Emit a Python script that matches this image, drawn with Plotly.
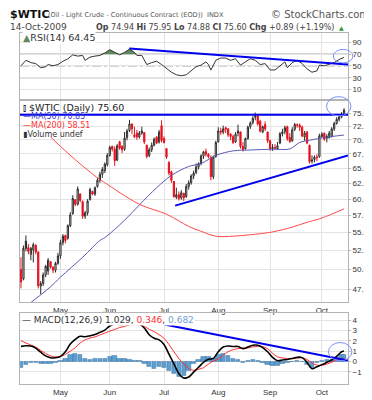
import math
import pandas as pd
import plotly.graph_objects as go

# ---------------- data ----------------
holidays = ["2009-04-10", "2009-05-25", "2009-07-03", "2009-09-07"]
dates = [d for d in pd.bdate_range("2009-04-08", "2009-10-14")
         if d.strftime("%Y-%m-%d") not in holidays]
day_idx = list(range(len(dates)))

opens = [50.0, 48.8, 53.8, 52.9, 52.0, 52.6, 53.2, 52.3, 47.9, 48.2,
         49.3, 49.8, 51.0, 50.3, 49.9, 50.8, 51.8, 53.6, 54.6, 54.2,
         56.0, 57.8, 59.9, 59.2, 60.8, 59.6, 57.4, 57.9, 59.9, 61.2,
         60.8, 62.0, 63.0, 64.0, 64.6, 65.6, 67.2, 68.8, 68.3, 66.4,
         69.6, 68.8, 68.3, 70.4, 71.7, 72.9, 70.5, 71.2, 70.5, 71.2,
         71.3, 69.0, 67.2, 68.2, 69.0, 70.5, 69.6, 72.6, 70.2, 68.4,
         66.0, 64.4, 62.8, 60.3, 60.7, 60.2, 60.9, 60.4, 62.0, 62.6,
         63.7, 64.3, 65.2, 65.8, 67.1, 67.9, 67.4, 66.8, 63.6, 67.0,
         69.6, 71.6, 71.4, 72.2, 72.0, 71.0, 70.6, 69.6, 71.2, 71.4,
         68.8, 68.4, 70.2, 72.4, 73.2, 74.2, 74.5, 73.4, 71.4, 72.8,
         71.4, 69.8, 68.4, 68.6, 68.4, 69.4, 71.1, 71.5, 72.4, 70.4,
         69.8, 71.9, 72.8, 72.7, 72.3, 70.5, 71.4, 69.0, 66.2, 66.5,
         66.9, 67.0, 70.6, 71.2, 70.6, 70.4, 70.6, 72.0, 73.0, 73.8,
         74.3, 74.94]
highs = [51.6, 53.2, 54.6, 53.4, 53.0, 53.6, 53.4, 52.4, 48.5, 49.6,
         50.6, 51.5, 51.1, 50.4, 51.0, 52.2, 54.0, 54.8, 54.7, 56.2,
         58.0, 60.6, 60.0, 62.0, 60.9, 59.8, 58.2, 60.0, 61.8, 61.3,
         62.0, 63.4, 64.4, 65.2, 66.0, 67.6, 68.9, 68.9, 68.8, 69.2,
         69.8, 69.0, 71.4, 72.0, 73.7, 73.0, 72.4, 71.8, 71.6, 72.4,
         71.4, 69.1, 68.6, 69.5, 70.4, 70.6, 71.8, 73.6, 70.6, 68.5,
         66.2, 64.6, 62.9, 61.8, 61.2, 61.4, 61.0, 62.4, 63.0, 64.0,
         64.6, 65.8, 66.0, 67.4, 68.0, 68.4, 67.6, 67.2, 67.2, 69.8,
         72.3, 72.2, 72.6, 72.4, 72.1, 71.2, 70.9, 71.4, 72.8, 71.5,
         69.6, 70.4, 72.6, 73.4, 74.4, 75.1, 74.6, 73.7, 72.6, 73.4,
         71.5, 70.0, 69.2, 69.2, 69.6, 71.4, 72.0, 72.6, 72.6, 71.2,
         72.3, 73.1, 73.0, 73.0, 72.6, 71.6, 71.6, 69.1, 67.2, 67.2,
         67.4, 71.1, 71.4, 71.3, 71.0, 71.6, 72.3, 73.3, 74.2, 74.6,
         75.2, 75.95]
lows = [47.6, 48.6, 52.4, 52.0, 51.2, 50.9, 52.0, 47.6, 46.9, 47.9,
        49.0, 49.3, 50.1, 49.5, 49.6, 50.6, 51.4, 53.2, 53.5, 54.0,
        55.8, 57.6, 58.9, 59.0, 59.5, 57.0, 57.0, 57.5, 59.8, 60.6,
        60.5, 61.8, 62.6, 63.4, 64.2, 65.3, 67.0, 67.9, 65.4, 66.2,
        68.2, 67.6, 68.0, 69.9, 71.4, 71.0, 70.3, 70.0, 70.2, 70.9,
        69.2, 66.7, 66.9, 67.8, 68.8, 69.2, 69.3, 69.5, 69.3, 66.6,
        63.8, 62.6, 60.2, 60.0, 59.8, 59.9, 59.7, 60.2, 61.5, 62.3,
        63.2, 64.0, 64.8, 65.5, 66.6, 67.0, 66.7, 63.0, 63.2, 66.8,
        69.5, 70.9, 71.0, 71.2, 70.5, 69.9, 69.2, 69.4, 70.6, 68.4,
        67.9, 68.2, 70.0, 72.0, 72.8, 73.6, 72.6, 71.3, 71.2, 71.6,
        69.4, 68.0, 68.0, 68.2, 68.2, 69.2, 70.6, 71.0, 69.8, 69.4,
        69.6, 71.6, 72.2, 71.6, 70.4, 69.8, 69.2, 65.8, 65.8, 66.0,
        66.2, 66.8, 70.4, 69.8, 69.5, 70.2, 70.4, 71.6, 72.8, 73.4,
        74.0, 74.88]
closes = [48.4, 52.8, 52.8, 52.4, 52.8, 53.3, 52.3, 47.9, 48.2, 49.3,
          50.4, 51.2, 50.3, 49.9, 50.8, 51.8, 53.6, 54.5, 53.9, 56.0,
          57.6, 60.1, 59.2, 61.6, 59.8, 57.4, 57.9, 59.7, 61.5, 60.8,
          61.8, 63.0, 64.0, 64.8, 65.7, 67.2, 68.6, 68.3, 66.3, 68.9,
          68.5, 68.2, 70.3, 71.6, 72.9, 72.0, 70.9, 70.5, 71.2, 71.6,
          69.6, 67.0, 68.2, 69.0, 70.1, 69.4, 71.4, 69.9, 69.5, 66.9,
          64.2, 63.0, 60.4, 60.7, 60.1, 61.0, 60.2, 62.0, 62.6, 63.7,
          64.2, 65.2, 65.8, 67.1, 67.8, 67.4, 67.0, 63.6, 66.9, 69.5,
          71.6, 71.4, 72.0, 71.9, 70.9, 70.6, 69.5, 71.0, 71.6, 68.8,
          68.2, 70.2, 72.3, 73.1, 74.0, 74.4, 72.9, 71.6, 72.4, 72.0,
          69.8, 68.4, 68.6, 68.5, 68.9, 71.1, 71.4, 72.2, 70.2, 69.7,
          71.8, 72.8, 72.7, 72.3, 70.7, 71.2, 69.4, 66.1, 66.4, 66.9,
          66.8, 70.7, 71.0, 70.1, 70.3, 71.2, 72.0, 73.0, 73.8, 74.3,
          74.71, 75.60]

ma50_idx = [0, 12, 16, 25, 32, 34, 42, 48, 55, 61, 68, 73, 79, 86, 93, 102, 109, 113, 117, 123, 131]
ma50_val = [45.0, 47.8, 49.0, 51.6, 53.9, 54.3, 56.8, 59.1, 61.8, 63.8, 65.3, 65.8, 67.2, 68.0,
            68.15, 68.3, 68.35, 69.5, 69.9, 70.4, 70.85]
ma200_idx = [12, 19, 25, 32, 34, 48, 59, 68, 73, 79, 86, 93, 102, 109, 117, 121, 126, 131]
ma200_val = [70.5, 67.6, 65.4, 63.1, 62.6, 59.2, 57.7, 55.9, 55.2, 54.5, 54.5, 54.7, 55.1, 55.7,
             56.6, 57.0, 57.7, 58.51]

rsi_idx = [0, 2, 4, 6, 8, 10, 11, 13, 15, 17, 19, 21, 23, 25, 26, 28, 30, 32, 34, 36, 38, 40, 42,
           44, 46, 47, 49, 51, 53, 55, 57, 59, 61, 63, 65, 67, 69, 71, 73, 75, 76, 77, 79, 81, 83,
           85, 87, 89, 91, 93, 95, 97, 99, 101, 103, 105, 107, 108, 110, 112, 114, 116, 118, 120,
           121, 123, 125, 127, 129, 131]
rsi_val = [50.3, 59.6, 55.7, 54.0, 47.0, 48.7, 52.4, 50.3, 52.4, 58.0, 62.0, 68.8, 66.7, 67.8, 59.6,
           65.0, 66.7, 67.8, 72.0, 77.6, 73.2, 68.8, 73.0, 78.6, 73.0, 67.8, 67.8, 52.4, 55.7, 58.0,
           52.4, 46.0, 39.4, 35.1, 33.5, 35.0, 41.7, 48.7, 51.4, 56.9, 52.4, 43.0, 59.6, 63.4, 63.4,
           59.6, 62.2, 51.4, 57.0, 62.2, 59.6, 52.4, 54.0, 43.2, 43.2, 50.3, 56.9, 47.0, 55.7, 59.6,
           54.0, 45.0, 39.4, 41.7, 51.4, 50.3, 52.4, 55.7, 61.0, 64.45]

macd_idx = list(range(0, 131, 2)) + [131]
macd_val = [1.47, 1.53, 1.5, 1.3, 0.9, 0.55, 0.37, 0.36, 0.5, 0.95, 1.7, 2.15, 2.45, 2.4, 2.5, 2.62,
            2.83, 3.05, 3.45, 3.65, 3.6, 3.65, 3.75, 3.7, 3.65, 3.25, 2.6, 2.25, 2.1, 1.65, 0.72,
            -0.22, -1.17, -1.6, -1.5, -1.03, -0.56, -0.09, 0.22, 0.3, 0.95, 1.4, 1.5, 1.46, 1.45,
            1.25, 1.4, 1.58, 1.58, 1.35, 0.95, 0.4, 0.08, 0.15, 0.2, 0.3, 0.42, 0.38, -0.1, -0.7,
            -0.5, -0.3, -0.08, 0.15, 0.5, 0.95, 1.0286]
signal_val = [2.03, 1.8, 1.6, 1.4, 1.08, 0.78, 0.55, 0.44, 0.46, 0.7, 1.0, 1.35, 1.8, 2.1, 2.28, 2.38,
              2.58, 2.76, 2.95, 3.1, 3.3, 3.4, 3.55, 3.58, 3.55, 3.42, 3.12, 2.9, 2.6, 2.25, 1.65,
              0.95, 0.3, -0.25, -0.65, -0.85, -0.75, -0.6, -0.25, 0.05, 0.25, 0.6, 0.95, 1.15, 1.25,
              1.31, 1.31, 1.42, 1.47, 1.45, 1.25, 0.8, 0.45, 0.35, 0.28, 0.27, 0.32, 0.36, 0.2, -0.15,
              -0.35, -0.38, -0.25, -0.08, 0.15, 0.3, 0.3463]

# hand-drawn trend lines
res_x, res_y = [-0.4, 132.6], [74.7, 74.7]
sup_x, sup_y = [62.5, 132.6], [59.0, 67.2]
rsi_tr_x, rsi_tr_y = [43.9, 132.6], [79.7, 52.4]
macd_tr_x, macd_tr_y = [58.2, 132.6], [3.58, 0.1]

price_ticks = [47.5, 50.0, 52.5, 55.0, 57.5, 60.0, 62.5, 65.0, 67.5, 70.0, 72.5, 75.0]
rsi_ticks = [10, 30, 50, 70, 90]
macd_ticks = [-1, 0, 1, 2, 3, 4]

# ---------------- geometry helpers ----------------
W, H = 372, 400
L, R, T, B = 12, 348, 25, 389


def pxx(x):
    return (x - L) / (R - L)


def pxy(y):
    return (B - y) / (B - T)


month_pos = [i for i in range(1, len(dates)) if dates[i].month != dates[i - 1].month]
month_lbl = [dates[i].strftime("%b") for i in month_pos]
x_range = [-0.4, len(dates) + 0.6]

fig = go.Figure()

# ---------------- RSI panel ----------------
rsi_cap = [max(v, 70) for v in rsi_val]
fig.add_trace(go.Scatter(x=rsi_idx, y=[70] * len(rsi_idx), mode="lines", line=dict(width=0),
                         hoverinfo="skip", xaxis="x", yaxis="y"))
fig.add_trace(go.Scatter(x=rsi_idx, y=rsi_cap, mode="lines", line=dict(width=0), fill="tonexty",
                         fillcolor="#5c8a5c", hoverinfo="skip", xaxis="x", yaxis="y"))
fig.add_trace(go.Scatter(x=rsi_idx, y=rsi_val, mode="lines", line=dict(color="#333333", width=1),
                         xaxis="x", yaxis="y"))
fig.add_trace(go.Scatter(x=rsi_tr_x, y=rsi_tr_y, mode="lines", line=dict(color="#0000ee", width=2),
                         xaxis="x", yaxis="y"))

# ---------------- price panel ----------------
prev_close = [opens[0]] + closes[:-1]
groups = [
    ([c >= p for c, p in zip(closes, prev_close)], "#2a2a2a"),
    ([c < p for c, p in zip(closes, prev_close)], "#e8101c"),
]
for mask, col in groups:
    xs = [i for i, m in zip(day_idx, mask) if m]
    fig.add_trace(go.Candlestick(
        x=xs,
        open=[opens[i] for i in xs], high=[highs[i] for i in xs],
        low=[lows[i] for i in xs], close=[closes[i] for i in xs],
        increasing=dict(line=dict(color=col, width=1), fillcolor="white"),
        decreasing=dict(line=dict(color=col, width=1), fillcolor=col),
        whiskerwidth=0, xaxis="x2", yaxis="y2"))

fig.add_trace(go.Scatter(x=ma50_idx, y=ma50_val, mode="lines", line=dict(color="#5a5ab4", width=1, shape="spline"),
                         xaxis="x2", yaxis="y2"))
fig.add_trace(go.Scatter(x=ma200_idx, y=ma200_val, mode="lines", line=dict(color="#ff4a4a", width=1, shape="spline"),
                         xaxis="x2", yaxis="y2"))
fig.add_trace(go.Scatter(x=res_x, y=res_y, mode="lines", line=dict(color="#0000ee", width=2),
                         xaxis="x2", yaxis="y2"))
fig.add_trace(go.Scatter(x=sup_x, y=sup_y, mode="lines", line=dict(color="#0000ee", width=2),
                         xaxis="x2", yaxis="y2"))

# ---------------- MACD panel ----------------
hist_val = [m - s for m, s in zip(macd_val, signal_val)]
fig.add_trace(go.Bar(x=macd_idx, y=hist_val, width=1.8,
                     marker=dict(color="#5c9fd2", line=dict(color="#2a5f90", width=0.4)),
                     xaxis="x3", yaxis="y3"))
fig.add_trace(go.Scatter(x=macd_idx, y=signal_val, mode="lines", line=dict(color="#ff3030", width=1, shape="spline"),
                         xaxis="x3", yaxis="y3"))
fig.add_trace(go.Scatter(x=macd_idx, y=macd_val, mode="lines", line=dict(color="#000000", width=1.6, shape="spline"),
                         xaxis="x3", yaxis="y3"))
fig.add_trace(go.Scatter(x=macd_tr_x, y=macd_tr_y, mode="lines", line=dict(color="#0000ee", width=2),
                         xaxis="x3", yaxis="y3"))

# ---------------- axes ----------------
grid = "#e3e3e3"
border = "#b4b4b4"
tickfont = dict(family="Liberation Sans", size=8, color="#333333")
xcommon = dict(range=x_range, tickvals=month_pos, ticktext=month_lbl, showgrid=True, gridcolor=grid,
               showline=True, mirror=True, linecolor=border, zeroline=False, ticks="", tickfont=tickfont,
               fixedrange=True)
ycommon = dict(side="right", showgrid=True, gridcolor=grid, showline=True, mirror=True, linecolor=border,
               zeroline=False, ticks="outside", ticklen=2, tickcolor="#bbbbbb", tickfont=tickfont)

lo, hi = 45.94, 77.3
fig.update_layout(
    width=W, height=H,
    margin=dict(l=L, r=W - R, t=T, b=H - B),
    paper_bgcolor="white", plot_bgcolor="white",
    showlegend=False,
    bargap=0,
    xaxis=dict(xcommon, domain=[0, 1], anchor="y", showticklabels=False),
    yaxis=dict(ycommon, domain=[pxy(93), 1.0], range=[-5.2, 105.8], tickvals=rsi_ticks),
    xaxis2=dict(xcommon, domain=[0, 1], anchor="y2", showticklabels=True, rangeslider=dict(visible=False)),
    yaxis2=dict(ycommon, domain=[pxy(304), pxy(96)], type="log",
                range=[math.log10(lo), math.log10(hi)], tickvals=price_ticks,
                ticktext=["%.1f" % v for v in price_ticks]),
    xaxis3=dict(xcommon, domain=[0, 1], anchor="y3", showticklabels=True),
    yaxis3=dict(ycommon, domain=[0, pxy(315)], range=[-2.18, 4.74], tickvals=macd_ticks),
)

# ---------------- shapes ----------------
shapes = [
    dict(type="line", xref="paper", x0=0, x1=1, yref="y", y0=70, y1=70, layer="below",
         line=dict(color="#8a8a8a", width=1)),
    dict(type="line", xref="paper", x0=0, x1=1, yref="y", y0=30, y1=30, layer="below",
         line=dict(color="#8a8a8a", width=1)),
    dict(type="line", xref="paper", x0=0, x1=1, yref="y", y0=50, y1=50, layer="below",
         line=dict(color="#a0a0a0", width=1, dash="dashdot")),
]
ell = dict(color="#7a90ff", width=1)
for (x0, x1, y0, y1) in [(333, 353, 42, 56), (326, 351, 91, 111), (328, 352, 346, 365)]:
    shapes.append(dict(type="circle", xref="paper", yref="paper", x0=pxx(x0), x1=pxx(x1),
                       y0=pxy(y1), y1=pxy(y0), line=ell))
fig.update_layout(shapes=shapes)

# ---------------- texts ----------------
DV = "DejaVu Sans"
ann = []


def text(x, y, s, size, color="#333333", anchor="left", family=DV, bg=None):
    d = dict(x=pxx(x), y=pxy(y), xref="paper", yref="paper", text=s, showarrow=False,
             xanchor=anchor, yanchor="middle", font=dict(family=family, size=size, color=color))
    if bg:
        d["bgcolor"] = bg
        d["borderpad"] = 0
    ann.append(d)


chg = closes[-1] - closes[-2]
pct = chg / closes[-2] * 100
text(0, 6, "<b>$WTIC</b>", 11, "#111111")
text(39, 6.5, "(Oil - Light Crude - Continuous Contract (EOD))  INDX", 6.6, "#555555")
text(372, 6, "© StockCharts.com", 10, "#555555", anchor="right")
text(0, 19, dates[-1].strftime("%d-%b-%Y").lstrip("0"), 9, "#444444")
head = ("<b>Op</b> %.2f <b>Hi</b> %.2f <b>Lo</b> %.2f <b>Cl</b> %.2f <b>Chg</b> %+.2f (%+.2f%%)"
        % (opens[-1], highs[-1], lows[-1], closes[-1], chg, pct))
text(336, 19, head, 8, "#444444", anchor="right")
text(337, 19, "▲", 6, "#2a9a2a")

# RSI legend
text(14, 30, "<span style='color:#5c8a5c'>▲</span>RSI(14) %.2f" % rsi_val[-1], 9.5, "#333333", bg="white")

# price legend
text(13, 102.5, "⫾ $WTIC (Daily) %.2f" % closes[-1], 9.5, "#222222")
text(13, 112, "<span style='color:#3a3acc'>—</span>MA(50) %.2f" % ma50_val[-1], 8, "#3a3acc")
text(13, 121, "—MA(200) %.2f" % ma200_val[-1], 8, "#ff3030")
text(13, 130, "▮Volume undef", 8, "#333333")

# MACD legend
macd_leg = ("<span style='color:#000'>—</span> MACD(12,26,9) %.3f, <span style='color:#ff3030'>%.3f</span>, "
            "<span style='color:#6fa0d8'>%.3f</span>" % (macd_val[-1], signal_val[-1], hist_val[-1]))
text(13, 323, macd_leg, 9, "#333333", bg="white")

fig.update_layout(annotations=ann)
fig.write_html("out.html")
